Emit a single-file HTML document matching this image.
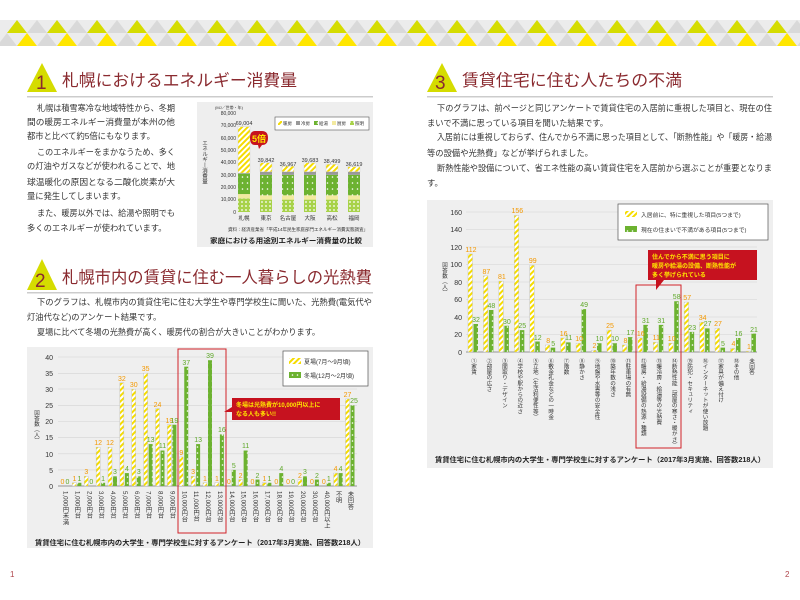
<!DOCTYPE html><html><head><meta charset="utf-8"><style>
body{margin:0;background:#fff}
svg{display:block;font-family:"Liberation Sans","Noto Sans CJK JP",sans-serif}
.t{font-size:8.3px;fill:#333}
.h{font-size:16.5px;fill:#8a2a2f}
.o{font-size:7px;fill:#f39800;text-anchor:middle}
.g{font-size:7px;fill:#5fa82a;text-anchor:middle}
.ax{font-size:7px;fill:#333;text-anchor:end}
.v{font-size:6.2px;fill:#333;writing-mode:tb}
.cap{font-size:7px;fill:#222;font-weight:bold}
</style></head><body>
<svg id="s" width="800" height="600" viewBox="0 0 800 600">
<defs>
<pattern id="yh" width="4" height="4" patternUnits="userSpaceOnUse" patternTransform="rotate(45)"><rect width="4" height="4" fill="#fff"/><rect width="2" height="4" fill="#f5dc00"/></pattern>
<pattern id="gd" width="5" height="6" patternUnits="userSpaceOnUse"><rect width="5" height="6" fill="#6cb230"/><circle cx="2.5" cy="3" r="0.8" fill="#fff"/></pattern>
<pattern id="ld" width="4" height="4" patternUnits="userSpaceOnUse"><rect width="4" height="4" fill="#a8d24a"/><circle cx="2" cy="2" r="0.9" fill="#fff"/></pattern>
</defs>
<rect width="800" height="600" fill="#fff"/>
<rect x="0" y="20" width="800" height="26" fill="#ececec"/>
<g id="tri"></g>
<!-- Section 1 -->
<polygon points="27,92 42,63 57,92" fill="#d5dc00"/>
<text x="36" y="89" style="font-size:19px;fill:#8a2a2f">1</text>
<text x="62" y="86" class="h" textLength="235" lengthAdjust="spacingAndGlyphs">札幌におけるエネルギー消費量</text>
<rect x="27" y="96" width="346" height="1.5" fill="#ccc"/>
<text class="t" x="37" y="111" textLength="138" lengthAdjust="spacingAndGlyphs">札幌は積雪寒冷な地域特性から、冬期</text>
<text class="t" x="27" y="125" textLength="148" lengthAdjust="spacingAndGlyphs">間の暖房エネルギー消費量が本州の他</text>
<text class="t" x="27" y="139">都市と比べて約5倍にもなります。</text>
<text class="t" x="37" y="155" textLength="138" lengthAdjust="spacingAndGlyphs">このエネルギーをまかなうため、多く</text>
<text class="t" x="27" y="169" textLength="148" lengthAdjust="spacingAndGlyphs">の灯油やガスなどが使われることで、地</text>
<text class="t" x="27" y="185" textLength="148" lengthAdjust="spacingAndGlyphs">球温暖化の原因となる二酸化炭素が大</text>
<text class="t" x="27" y="199">量に発生してしまいます。</text>
<text class="t" x="37" y="216" textLength="138" lengthAdjust="spacingAndGlyphs">また、暖房以外では、給湯や照明でも</text>
<text class="t" x="27" y="231">多くのエネルギーが使われています。</text>
<rect x="197" y="102" width="176" height="145" fill="#eeeeee"/>
<g id="c1"></g>
<text x="215" y="109" style="font-size:4px;fill:#333">(MJ／世帯・年)</text>
<g class="ax" style="font-size:5px">
<text x="236" y="115">80,000</text><text x="236" y="127">70,000</text><text x="236" y="140">60,000</text><text x="236" y="152">50,000</text><text x="236" y="164">40,000</text><text x="236" y="177">30,000</text><text x="236" y="189">20,000</text><text x="236" y="201">10,000</text><text x="236" y="214">0</text></g>
<text x="204" y="140" style="font-size:5.5px;fill:#333;writing-mode:tb">エネルギー消費量</text>
<g style="font-size:5.5px;fill:#333;text-anchor:middle">
<text x="244" y="125">69,004</text><text x="266" y="162">39,842</text><text x="288" y="166">36,967</text><text x="310" y="162">39,683</text><text x="332" y="163">38,499</text><text x="354" y="166">36,619</text>
<text x="244" y="220">札幌</text><text x="266" y="220">東京</text><text x="288" y="220">名古屋</text><text x="310" y="220">大阪</text><text x="332" y="220">高松</text><text x="354" y="220">福岡</text></g>
<rect x="275" y="117" width="94" height="13" fill="#fff" stroke="#555" stroke-width="0.6"/>
<g style="font-size:4.5px;fill:#333"><rect x="278" y="121" width="4" height="4" fill="url(#yh)"/><text x="283" y="125">暖房</text><rect x="296" y="121" width="4" height="4" fill="#999"/><text x="301" y="125">冷房</text><rect x="314" y="121" width="4" height="4" fill="url(#gd)"/><text x="319" y="125">給湯</text><rect x="332" y="121" width="4" height="4" fill="#f3eaa0"/><text x="337" y="125">厨房</text><rect x="350" y="121" width="4" height="4" fill="url(#ld)"/><text x="355" y="125">照明</text></g>
<path d="M255,131 L262,131 Q268,131 268,138 Q268,145 262,145 L262,145 L259,149 L258,145 L255,145 Q250,145 250,138 Q250,131 255,131Z" fill="#c6121f"/>
<text x="259" y="142" style="font-size:9px;fill:#ffe600;font-weight:bold;text-anchor:middle">5倍</text>
<text x="368" y="231" style="font-size:4.5px;fill:#333;text-anchor:end">資料：経済産業省「平成14年民生家庭部門エネルギー消費実態調査」</text>
<text x="210" y="243" class="cap" textLength="152" lengthAdjust="spacingAndGlyphs">家庭における用途別エネルギー消費量の比較</text>
<!-- Section 2 -->
<polygon points="27,290 42,259 57,290" fill="#d5dc00"/>
<text x="35" y="287" style="font-size:19px;fill:#8a2a2f">2</text>
<text x="62" y="283" class="h" textLength="310" lengthAdjust="spacingAndGlyphs">札幌市内の賃貸に住む一人暮らしの光熱費</text>
<rect x="27" y="292" width="346" height="1.5" fill="#ccc"/>
<text class="t" x="37" y="305" textLength="335" lengthAdjust="spacingAndGlyphs">下のグラフは、札幌市内の賃貸住宅に住む大学生や専門学校生に聞いた、光熱費(電気代や</text>
<text class="t" x="27" y="320">灯油代など)のアンケート結果です。</text>
<text class="t" x="37" y="335" textLength="283" lengthAdjust="spacingAndGlyphs">夏場に比べて冬場の光熱費が高く、暖房代の割合が大きいことがわかります。</text>
<rect x="27" y="347" width="346" height="201" fill="#efefef"/>
<g stroke="#d4d4d4" stroke-width="0.6"><line x1="58" x2="357" y1="357" y2="357"/><line x1="58" x2="357" y1="373.3" y2="373.3"/><line x1="58" x2="357" y1="389" y2="389"/><line x1="58" x2="357" y1="405.4" y2="405.4"/><line x1="58" x2="357" y1="421.5" y2="421.5"/><line x1="58" x2="357" y1="437.6" y2="437.6"/><line x1="58" x2="357" y1="453.8" y2="453.8"/><line x1="58" x2="357" y1="469.9" y2="469.9"/></g>
<line x1="58" x2="357" y1="486" y2="486" stroke="#777" stroke-width="0.8"/>
<g class="ax"><text x="53" y="360">40</text><text x="53" y="376">35</text><text x="53" y="392">30</text><text x="53" y="408">25</text><text x="53" y="424">20</text><text x="53" y="440">15</text><text x="53" y="457">10</text><text x="53" y="473">5</text><text x="53" y="489">0</text></g>
<text x="36" y="410" style="font-size:5.5px;fill:#333;writing-mode:tb">回答数（人）</text>
<g id="c2"></g>
<rect x="178" y="349" width="48" height="184" fill="none" stroke="#d2232a" stroke-width="1"/>
<rect x="283" y="351" width="85" height="35" fill="#fff" stroke="#555" stroke-width="0.7"/>
<rect x="289" y="358" width="12" height="6" fill="url(#yh)"/><text x="304" y="364" style="font-size:6px;fill:#333">夏場(7月〜9月頃)</text>
<rect x="289" y="372" width="12" height="6" fill="url(#gd)"/><text x="304" y="378" style="font-size:6px;fill:#333">冬場(12月〜2月頃)</text>
<rect x="232" y="398" width="108" height="22" fill="#c6121f"/><polygon points="232,407 224,412 232,412" fill="#c6121f"/>
<text x="236" y="407" style="font-size:6px;fill:#ffe600;font-weight:bold">冬場は光熱費が10,000円以上に</text>
<text x="236" y="416" style="font-size:6px;fill:#ffe600;font-weight:bold">なる人も多い!!</text>
<g class="o"><text x="62.5" y="484">0</text><text x="74.4" y="481">1</text><text x="86.3" y="474">3</text><text x="98.1" y="445">12</text><text x="110" y="445">12</text><text x="121.9" y="381">32</text><text x="133.8" y="387">30</text><text x="145.6" y="371">35</text><text x="157.5" y="407">24</text><text x="169.4" y="423">19</text><text x="181.3" y="455">9</text><text x="193.1" y="474">3</text><text x="205" y="481">1</text><text x="216.9" y="481">1</text><text x="228.8" y="484">0</text><text x="240.6" y="478">2</text><text x="252.5" y="484">0</text><text x="264.4" y="481">1</text><text x="276.3" y="484">0</text><text x="288.1" y="484">0</text><text x="300" y="478">2</text><text x="311.9" y="484">0</text><text x="323.8" y="484">0</text><text x="335.6" y="471">4</text><text x="347.5" y="397">27</text></g>
<g class="g"><text x="67.5" y="484">0</text><text x="79.4" y="481">1</text><text x="91.3" y="484">0</text><text x="103.1" y="481">1</text><text x="115" y="474">3</text><text x="126.9" y="471">4</text><text x="138.8" y="474">3</text><text x="150.6" y="442">13</text><text x="162.5" y="448">11</text><text x="174.4" y="423">19</text><text x="186.3" y="365">37</text><text x="198.1" y="442">13</text><text x="210" y="358">39</text><text x="221.9" y="432">16</text><text x="233.8" y="468">5</text><text x="245.6" y="448">11</text><text x="257.5" y="478">2</text><text x="269.4" y="481">1</text><text x="281.3" y="471">4</text><text x="293.1" y="484">0</text><text x="305" y="474">3</text><text x="316.9" y="478">2</text><text x="328.8" y="481">1</text><text x="340.6" y="471">4</text><text x="354" y="403">25</text></g>
<g class="v"><text x="65" y="491">1,000円未満</text><text x="76.9" y="491">1,000円台</text><text x="88.8" y="491">2,000円台</text><text x="100.6" y="491">3,000円台</text><text x="112.5" y="491">4,000円台</text><text x="124.4" y="491">5,000円台</text><text x="136.3" y="491">6,000円台</text><text x="148.1" y="491">7,000円台</text><text x="160" y="491">8,000円台</text><text x="171.9" y="491">9,000円台</text><text x="183.8" y="491">10,000円台</text><text x="195.6" y="491">11,000円台</text><text x="207.5" y="491">12,000円台</text><text x="219.4" y="491">13,000円台</text><text x="231.3" y="491">14,000円台</text><text x="243.1" y="491">15,000円台</text><text x="255" y="491">16,000円台</text><text x="266.9" y="491">17,000円台</text><text x="278.8" y="491">18,000円台</text><text x="290.6" y="491">19,000円台</text><text x="302.5" y="491">20,000円台</text><text x="314.4" y="491">30,000円台</text><text x="326.3" y="491">40,000円以上</text><text x="338.1" y="491">不明</text><text x="350" y="491">未回答</text></g>
<text x="35" y="545" class="cap" textLength="330" lengthAdjust="spacingAndGlyphs">賃貸住宅に住む札幌市内の大学生・専門学校生に対するアンケート（2017年3月実施、回答数218人）</text>
<text x="10" y="577" style="font-size:8px;fill:#b0464c">1</text>
<!-- Section 3 -->
<polygon points="427,92 442,63 457,92" fill="#d5dc00"/>
<text x="435" y="89" style="font-size:19px;fill:#8a2a2f">3</text>
<text x="462" y="86" class="h" textLength="220" lengthAdjust="spacingAndGlyphs">賃貸住宅に住む人たちの不満</text>
<rect x="427" y="96" width="346" height="1.5" fill="#ccc"/>
<text class="t" x="437" y="111" textLength="335" lengthAdjust="spacingAndGlyphs">下のグラフは、前ページと同じアンケートで賃貸住宅の入居前に重視した項目と、現在の住</text>
<text class="t" x="427" y="126">まいで不満に思っている項目を聞いた結果です。</text>
<text class="t" x="437" y="140" textLength="335" lengthAdjust="spacingAndGlyphs">入居前には重視しておらず、住んでから不満に思った項目として、「断熱性能」や「暖房・給湯</text>
<text class="t" x="427" y="156">等の設備や光熱費」などが挙げられました。</text>
<text class="t" x="437" y="171" textLength="335" lengthAdjust="spacingAndGlyphs">断熱性能や設備について、省エネ性能の高い賃貸住宅を入居前から選ぶことが重要となりま</text>
<text class="t" x="427" y="186">す。</text>
<rect x="427" y="200" width="346" height="268" fill="#efefef"/>
<g stroke="#d4d4d4" stroke-width="0.6"><line x1="466" x2="757" y1="212" y2="212"/><line x1="466" x2="757" y1="229.5" y2="229.5"/><line x1="466" x2="757" y1="247" y2="247"/><line x1="466" x2="757" y1="264.5" y2="264.5"/><line x1="466" x2="757" y1="282" y2="282"/><line x1="466" x2="757" y1="299.5" y2="299.5"/><line x1="466" x2="757" y1="317" y2="317"/><line x1="466" x2="757" y1="334.5" y2="334.5"/></g>
<line x1="466" x2="757" y1="352" y2="352" stroke="#777" stroke-width="0.8"/>
<g class="ax"><text x="462" y="215">160</text><text x="462" y="232">140</text><text x="462" y="250">120</text><text x="462" y="267">100</text><text x="462" y="285">80</text><text x="462" y="302">60</text><text x="462" y="320">40</text><text x="462" y="337">20</text><text x="462" y="355">0</text></g>
<text x="444" y="262" style="font-size:5.5px;fill:#333;writing-mode:tb">回答数（人）</text>
<g id="c3"></g>
<rect x="636" y="285" width="45" height="163" fill="none" stroke="#d2232a" stroke-width="1"/>
<rect x="618" y="204" width="150" height="36" fill="#fff" stroke="#555" stroke-width="0.7"/>
<rect x="625" y="211" width="12" height="6" fill="url(#yh)"/><text x="641" y="217" style="font-size:5.8px;fill:#333">入居前に、特に重視した項目(5つまで)</text>
<rect x="625" y="226" width="12" height="6" fill="url(#gd)"/><text x="641" y="232" style="font-size:5.8px;fill:#333">現在の住まいで不満がある項目(5つまで)</text>
<rect x="648" y="250" width="109" height="30" fill="#c6121f"/><polygon points="656,280 664,280 656,290" fill="#c6121f"/>
<g style="font-size:6px;fill:#ffe600;font-weight:bold"><text x="652" y="259">住んでから不満に思う項目に</text><text x="652" y="268">暖房や給湯の設備、断熱性能が</text><text x="652" y="277">多く挙げられている</text></g>
<g class="o"><text x="471" y="252">112</text><text x="486.4" y="274">87</text><text x="501.9" y="279">81</text><text x="517.3" y="213">156</text><text x="532.8" y="263">99</text><text x="548.2" y="343">8</text><text x="563.6" y="336">16</text><text x="579.1" y="341">10</text><text x="594.5" y="348">2</text><text x="610" y="328">25</text><text x="625.4" y="343">8</text><text x="640.8" y="336">16</text><text x="656.3" y="340">11</text><text x="671.7" y="341">10</text><text x="687.2" y="300">57</text><text x="702.6" y="320">34</text><text x="718" y="326">27</text><text x="733.5" y="346">4</text><text x="749" y="349">1</text></g>
<g class="g"><text x="476" y="322">32</text><text x="491.4" y="308">48</text><text x="506.9" y="324">30</text><text x="522.3" y="328">25</text><text x="537.8" y="340">12</text><text x="553.2" y="346">5</text><text x="568.6" y="340">11</text><text x="584.1" y="307">49</text><text x="599.5" y="341">10</text><text x="615" y="341">10</text><text x="630.4" y="335">17</text><text x="645.8" y="323">31</text><text x="661.3" y="323">31</text><text x="676.7" y="299">58</text><text x="692.2" y="330">23</text><text x="707.6" y="326">27</text><text x="723" y="346">5</text><text x="738.5" y="336">16</text><text x="754" y="332">21</text></g>
<g class="v" style="font-size:5.6px"><text x="473" y="358">①家賃</text><text x="488.4" y="358">②部屋の広さ</text><text x="503.9" y="358">③間取り・デザイン</text><text x="519.3" y="358">④学校や駅からの近さ</text><text x="534.8" y="358">⑤立地（生活利便性等）</text><text x="550.2" y="358">⑥敷金礼金などの一時金</text><text x="565.6" y="358">⑦階数</text><text x="581.1" y="358">⑧静かさ</text><text x="596.5" y="358">⑨地盤や水害等の安全性</text><text x="612" y="358">⑩築年数の浅さ</text><text x="627.4" y="358">⑪駐車場の有無</text><text x="642.8" y="358">⑫暖房・給湯設備の熱源・種類</text><text x="658.3" y="358">⑬暖冷房・給湯等の光熱費</text><text x="673.7" y="358">⑭断熱性能（部屋の寒さ・暖かさ）</text><text x="689.2" y="358">⑮防犯・セキュリティ</text><text x="704.6" y="358">⑯インターネットが使い放題</text><text x="720" y="358">⑰家具が備え付け</text><text x="735.5" y="358">⑱その他</text><text x="751" y="358">未回答</text></g>
<text x="435" y="462" class="cap" textLength="330" lengthAdjust="spacingAndGlyphs">賃貸住宅に住む札幌市内の大学生・専門学校生に対するアンケート（2017年3月実施、回答数218人）</text>
<text x="785" y="577" style="font-size:8px;fill:#b0464c">2</text>
</svg>
<script>
var NS="http://www.w3.org/2000/svg";
function r(g,x,y,w,h,f,s){var e=document.createElementNS(NS,"rect");e.setAttribute("x",x);e.setAttribute("y",y);e.setAttribute("width",w);e.setAttribute("height",h);e.setAttribute("fill",f);if(s){e.setAttribute("stroke",s);e.setAttribute("stroke-width","0.4");}g.appendChild(e);}
function p(g,pts,f){var e=document.createElementNS(NS,"polygon");e.setAttribute("points",pts);e.setAttribute("fill",f);g.appendChild(e);}
var T=document.getElementById("tri");
for(var i=0;i<42;i++){var x=7+i*20;p(T,x+","+33+" "+(x+10)+",20 "+(x+20)+",33",i%2?"#d9d9d9":"#d5dc00");var x2=x-10;p(T,x2+",46 "+(x2+10)+",33 "+(x2+20)+",46",i%2?"#ffe600":"#d9d9d9");}
var c1=document.getElementById("c1");var k1=99/80000,b1=212;
var tot=[69004,39842,36967,39683,38499,36619],cx=[244,266,288,310,332,354];
var seg0=[11000,3500,16500,500],seg=[10000,3500,16500,2500];
var fills=["url(#ld)","#f3eaa0","url(#gd)","#999"];
for(i=0;i<6;i++){var s=i?seg:seg0,acc=0;for(var j=0;j<4;j++){r(c1,cx[i]-6,b1-(acc+s[j])*k1,12,s[j]*k1,fills[j]);acc+=s[j];}r(c1,cx[i]-6,b1-tot[i]*k1,12,(tot[i]-acc)*k1,"url(#yh)","#ccc");}
var c2=document.getElementById("c2");
var a=[0,1,3,12,12,32,30,35,24,19,9,3,1,1,0,2,0,1,0,0,2,0,0,4,27],b=[0,1,0,1,3,4,3,13,11,19,37,13,39,16,5,11,2,1,4,0,3,2,1,4,25];
for(i=0;i<25;i++){var c=65+11.875*i;if(a[i])r(c2,c-4.5,486-a[i]*3.225,4,a[i]*3.225,"url(#yh)","#bbb");if(b[i])r(c2,c+0.5,486-b[i]*3.225,4,b[i]*3.225,"url(#gd)");}
var c3=document.getElementById("c3");
a=[112,87,81,156,99,8,16,10,2,25,8,16,11,10,57,34,27,4,1];b=[32,48,30,25,12,5,11,49,10,10,17,31,31,58,23,27,5,16,21];
for(i=0;i<19;i++){var c=473+15.44*i;r(c3,c-5,352-a[i]*0.875,4.5,a[i]*0.875,"url(#yh)","#bbb");r(c3,c+0.5,352-b[i]*0.875,4.5,b[i]*0.875,"url(#gd)");}
</script>
</body></html>
